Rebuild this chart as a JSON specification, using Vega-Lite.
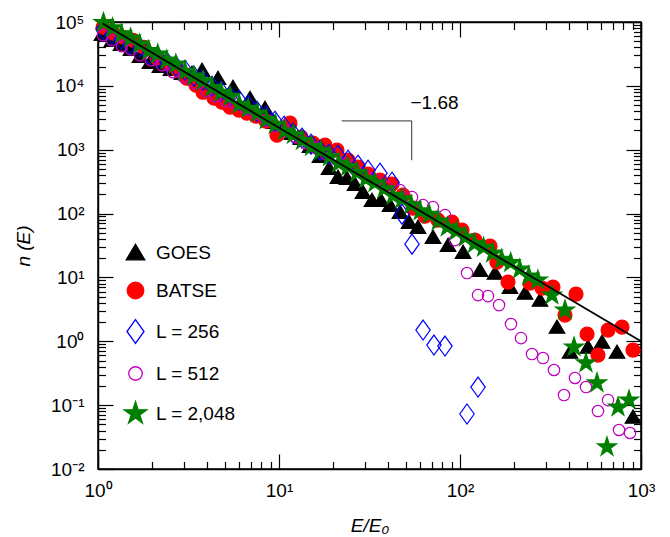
{
  "$schema": "https://vega.github.io/schema/vega-lite/v6.json",
  "width": 543,
  "height": 447,
  "autosize": {"type": "none"},
  "padding": {"left": 98, "top": 22, "right": 29, "bottom": 68},
  "background": "white",
  "config": {
    "view": {"stroke": "black", "strokeWidth": 1.5},
    "font": "Liberation Sans",
    "axis": {
      "grid": false, "domainColor": "black", "domainWidth": 1.5, "tickColor": "black", "tickWidth": 1.2,
      "labelFont": "Liberation Sans", "labelFontSize": 19, "labelColor": "black", "labelOverlap": false, "labelFlush": false,
      "titleFont": "Liberation Sans", "titleFontSize": 19, "titleFontStyle": "italic", "titleFontWeight": "normal", "titleColor": "black"
    },
    "legend": {
      "labelFont": "Liberation Sans", "labelFontSize": 19, "labelColor": "black",
      "symbolSize": 560, "symbolStrokeWidth": 1.3, "rowPadding": 15, "labelOffset": 8, "padding": 0
    }
  },
  "datasets": {
    "pts": [
      {"series":"GOES","E":1.052,"n":64300},{"series":"GOES","E":1.195,"n":51800},{"series":"GOES","E":1.34,"n":44800},{"series":"GOES","E":1.522,"n":37400},{"series":"GOES","E":1.706,"n":29100},{"series":"GOES","E":1.937,"n":23400},{"series":"GOES","E":2.2,"n":20300},{"series":"GOES","E":2.531,"n":18200},{"series":"GOES","E":2.911,"n":15800},{"series":"GOES","E":3.305,"n":15800},{"series":"GOES","E":3.755,"n":17600},{"series":"GOES","E":4.603,"n":13150},{"series":"GOES","E":5.57,"n":9510},{"series":"GOES","E":6.918,"n":6400},{"series":"GOES","E":8.37,"n":4470},{"series":"GOES","E":9.38,"n":2700},{"series":"GOES","E":10.52,"n":2170},{"series":"GOES","E":11.8,"n":1815},{"series":"GOES","E":13.23,"n":1515},{"series":"GOES","E":14.84,"n":1135},{"series":"GOES","E":16.85,"n":792},{"series":"GOES","E":18.9,"n":514},{"series":"GOES","E":21.18,"n":372},{"series":"GOES","E":23.75,"n":358},{"series":"GOES","E":26.3,"n":289},{"series":"GOES","E":29.11,"n":216},{"series":"GOES","E":32.65,"n":162},{"series":"GOES","E":36.62,"n":162},{"series":"GOES","E":41.07,"n":135.5},{"series":"GOES","E":46.6,"n":105.2},{"series":"GOES","E":52.3,"n":73.5},{"series":"GOES","E":58.6,"n":61.4},{"series":"GOES","E":70.9,"n":42.8},{"series":"GOES","E":85.9,"n":32.1},{"series":"GOES","E":104,"n":24.9},{"series":"GOES","E":128.9,"n":13},{"series":"GOES","E":156.1,"n":11.7},{"series":"GOES","E":188.9,"n":7.06},{"series":"GOES","E":228.6,"n":5.69},{"series":"GOES","E":276.7,"n":4.42},{"series":"GOES","E":343.4,"n":1.67},{"series":"GOES","E":405.5,"n":0.678},{"series":"GOES","E":509.5,"n":0.813},{"series":"GOES","E":609.5,"n":0.973},{"series":"GOES","E":736.9,"n":0.678},{"series":"GOES","E":903.4,"n":0.0652},
      {"series":"BATSE","E":1.066,"n":82700},{"series":"BATSE","E":1.21,"n":66700},{"series":"BATSE","E":1.375,"n":57700},{"series":"BATSE","E":1.561,"n":51800},{"series":"BATSE","E":1.795,"n":40200},{"series":"BATSE","E":2.118,"n":27100},{"series":"BATSE","E":2.436,"n":21800},{"series":"BATSE","E":2.767,"n":17560},{"series":"BATSE","E":3.103,"n":13150},{"series":"BATSE","E":3.479,"n":10230},{"series":"BATSE","E":3.802,"n":7940},{"series":"BATSE","E":4.375,"n":6400},{"series":"BATSE","E":4.842,"n":5545},{"series":"BATSE","E":5.361,"n":4630},{"series":"BATSE","E":6.012,"n":4155},{"series":"BATSE","E":6.653,"n":3730},{"series":"BATSE","E":7.463,"n":3347},{"series":"BATSE","E":8.475,"n":2795},{"series":"BATSE","E":9.75,"n":1688},{"series":"BATSE","E":11.5,"n":2601},{"series":"BATSE","E":13.23,"n":1570},{"series":"BATSE","E":15.41,"n":1265},{"series":"BATSE","E":17.96,"n":1178},{"series":"BATSE","E":20.91,"n":984},{"series":"BATSE","E":24.05,"n":686},{"series":"BATSE","E":27.32,"n":533},{"series":"BATSE","E":31.03,"n":414},{"series":"BATSE","E":36.13,"n":333},{"series":"BATSE","E":42.1,"n":289},{"series":"BATSE","E":48.4,"n":194},{"series":"BATSE","E":55,"n":121.6},{"series":"BATSE","E":64.1,"n":91.2},{"series":"BATSE","E":75.5,"n":78.9},{"series":"BATSE","E":90.3,"n":73.5},{"series":"BATSE","E":102.6,"n":55.1},{"series":"BATSE","E":121,"n":38.4},{"series":"BATSE","E":146.5,"n":30.9},{"series":"BATSE","E":160,"n":17.4},{"series":"BATSE","E":184.1,"n":8.45},{"series":"BATSE","E":243.7,"n":8.15},{"series":"BATSE","E":283.9,"n":6.81},{"series":"BATSE","E":326.5,"n":7.06},{"series":"BATSE","E":380.2,"n":2.57},{"series":"BATSE","E":437.5,"n":5.48},{"series":"BATSE","E":503.5,"n":1.3},{"series":"BATSE","E":578.5,"n":0.608},{"series":"BATSE","E":657.6,"n":1.5},{"series":"BATSE","E":785,"n":1.67},{"series":"BATSE","E":903,"n":0.729},
      {"series":"L = 256","E":1.066,"n":76900},{"series":"L = 256","E":1.195,"n":64300},{"series":"L = 256","E":1.34,"n":53670},{"series":"L = 256","E":1.503,"n":44810},{"series":"L = 256","E":1.706,"n":40220},{"series":"L = 256","E":1.913,"n":31250},{"series":"L = 256","E":2.146,"n":28050},{"series":"L = 256","E":2.406,"n":23440},{"series":"L = 256","E":2.697,"n":20290},{"series":"L = 256","E":3.025,"n":17560},{"series":"L = 256","E":3.392,"n":14150},{"series":"L = 256","E":3.802,"n":12240},{"series":"L = 256","E":4.264,"n":9865},{"series":"L = 256","E":4.782,"n":8240},{"series":"L = 256","E":5.361,"n":6880},{"series":"L = 256","E":6.012,"n":5960},{"series":"L = 256","E":6.742,"n":4975},{"series":"L = 256","E":7.559,"n":4008},{"series":"L = 256","E":8.475,"n":3347},{"series":"L = 256","E":9.5,"n":2795},{"series":"L = 256","E":10.66,"n":2335},{"series":"L = 256","E":11.95,"n":1814},{"series":"L = 256","E":13.4,"n":1515},{"series":"L = 256","E":15.02,"n":1220},{"series":"L = 256","E":16.85,"n":983},{"series":"L = 256","E":18.9,"n":851},{"series":"L = 256","E":21.18,"n":821},{"series":"L = 256","E":24.05,"n":686},{"series":"L = 256","E":27.32,"n":573},{"series":"L = 256","E":31.03,"n":478},{"series":"L = 256","E":36.13,"n":429},{"series":"L = 256","E":42.1,"n":310},{"series":"L = 256","E":47.8,"n":97.9},{"series":"L = 256","E":54.3,"n":33.2},{"series":"L = 256","E":62.5,"n":1.5},{"series":"L = 256","E":71.8,"n":0.873},{"series":"L = 256","E":82.6,"n":0.842},{"series":"L = 256","E":109.3,"n":0.0726},{"series":"L = 256","E":125.8,"n":0.192},
      {"series":"L = 512","E":1.066,"n":62000},{"series":"L = 512","E":1.195,"n":51800},{"series":"L = 512","E":1.357,"n":41700},{"series":"L = 512","E":1.522,"n":37400},{"series":"L = 512","E":1.706,"n":30150},{"series":"L = 512","E":1.963,"n":25180},{"series":"L = 512","E":2.257,"n":21030},{"series":"L = 512","E":2.597,"n":16340},{"series":"L = 512","E":2.987,"n":13650},{"series":"L = 512","E":3.435,"n":10990},{"series":"L = 512","E":3.951,"n":8240},{"series":"L = 512","E":4.487,"n":6880},{"series":"L = 512","E":5.096,"n":5746},{"series":"L = 512","E":5.787,"n":5158},{"series":"L = 512","E":6.573,"n":4308},{"series":"L = 512","E":7.463,"n":3597},{"series":"L = 512","E":8.475,"n":2898},{"series":"L = 512","E":9.625,"n":2335},{"series":"L = 512","E":10.93,"n":1950},{"series":"L = 512","E":12.42,"n":1570},{"series":"L = 512","E":14.1,"n":1265},{"series":"L = 512","E":16.01,"n":1056},{"series":"L = 512","E":18.18,"n":851},{"series":"L = 512","E":20.65,"n":711},{"series":"L = 512","E":23.45,"n":594},{"series":"L = 512","E":26.63,"n":478},{"series":"L = 512","E":30.25,"n":385},{"series":"L = 512","E":34.35,"n":333},{"series":"L = 512","E":39.01,"n":269},{"series":"L = 512","E":46.6,"n":232.6},{"series":"L = 512","E":54.3,"n":180.8},{"series":"L = 512","E":62.5,"n":135.5},{"series":"L = 512","E":70.9,"n":126.1},{"series":"L = 512","E":82.6,"n":94.5},{"series":"L = 512","E":93.8,"n":38.4},{"series":"L = 512","E":109.3,"n":11.7},{"series":"L = 512","E":125.8,"n":5.29},{"series":"L = 512","E":142.8,"n":5.1},{"series":"L = 512","E":164.3,"n":3.69},{"series":"L = 512","E":191.3,"n":1.86},{"series":"L = 512","E":217.3,"n":1.12},{"series":"L = 512","E":249.9,"n":0.631},{"series":"L = 512","E":287.4,"n":0.546},{"series":"L = 512","E":330.6,"n":0.355},{"series":"L = 512","E":375.5,"n":0.144},{"series":"L = 512","E":431.9,"n":0.266},{"series":"L = 512","E":496.8,"n":0.192},{"series":"L = 512","E":578.5,"n":0.0809},{"series":"L = 512","E":657.6,"n":0.12},{"series":"L = 512","E":756.1,"n":0.0408},{"series":"L = 512","E":869.6,"n":0.0366},
      {"series":"L = 2,048","E":1.072,"n":97700},{"series":"L = 2,048","E":1.202,"n":80500},{"series":"L = 2,048","E":1.349,"n":64900},{"series":"L = 2,048","E":1.514,"n":56000},{"series":"L = 2,048","E":1.698,"n":45100},{"series":"L = 2,048","E":1.905,"n":35500},{"series":"L = 2,048","E":2.138,"n":31300},{"series":"L = 2,048","E":2.399,"n":25200},{"series":"L = 2,048","E":2.692,"n":21800},{"series":"L = 2,048","E":3.02,"n":16750},{"series":"L = 2,048","E":3.388,"n":14130},{"series":"L = 2,048","E":3.802,"n":11910},{"series":"L = 2,048","E":4.266,"n":9380},{"series":"L = 2,048","E":4.786,"n":7910},{"series":"L = 2,048","E":5.37,"n":6820},{"series":"L = 2,048","E":6.026,"n":5130},{"series":"L = 2,048","E":6.761,"n":4430},{"series":"L = 2,048","E":7.586,"n":3730},{"series":"L = 2,048","E":8.511,"n":2940},{"series":"L = 2,048","E":9.55,"n":2480},{"series":"L = 2,048","E":10.72,"n":1950},{"series":"L = 2,048","E":12.02,"n":1722},{"series":"L = 2,048","E":13.49,"n":1387},{"series":"L = 2,048","E":15.14,"n":1117},{"series":"L = 2,048","E":16.98,"n":964},{"series":"L = 2,048","E":19.05,"n":776},{"series":"L = 2,048","E":21.38,"n":611},{"series":"L = 2,048","E":23.99,"n":540},{"series":"L = 2,048","E":26.92,"n":435},{"series":"L = 2,048","E":30.2,"n":350},{"series":"L = 2,048","E":33.88,"n":302},{"series":"L = 2,048","E":38.02,"n":243},{"series":"L = 2,048","E":42.66,"n":191},{"series":"L = 2,048","E":47.86,"n":169},{"series":"L = 2,048","E":53.7,"n":136},{"series":"L = 2,048","E":60.26,"n":109.6},{"series":"L = 2,048","E":67.61,"n":96.8},{"series":"L = 2,048","E":75.86,"n":76.2},{"series":"L = 2,048","E":85.11,"n":61.4},{"series":"L = 2,048","E":95.5,"n":53},{"series":"L = 2,048","E":107.2,"n":42.7},{"series":"L = 2,048","E":120.2,"n":33.6},{"series":"L = 2,048","E":134.9,"n":29.6},{"series":"L = 2,048","E":151.4,"n":23.9},{"series":"L = 2,048","E":169.8,"n":19.2},{"series":"L = 2,048","E":190.5,"n":17},{"series":"L = 2,048","E":213.8,"n":13.4},{"series":"L = 2,048","E":239.9,"n":10.5},{"series":"L = 2,048","E":269.2,"n":9.08},{"series":"L = 2,048","E":322.1,"n":5.28},{"series":"L = 2,048","E":380.2,"n":3.08},{"series":"L = 2,048","E":426.6,"n":0.811},{"series":"L = 2,048","E":496.6,"n":0.456},{"series":"L = 2,048","E":571.5,"n":0.222},{"series":"L = 2,048","E":648.6,"n":0.0221},{"series":"L = 2,048","E":746.5,"n":0.0933},{"series":"L = 2,048","E":859,"n":0.12}
    ],
    "fit": [{"E": 1.06, "n": 94400}, {"E": 1000, "n": 1.0}],
    "slope": [{"E": 22.2, "E2": 54.1, "n": 2825, "n2": 2825}, {"E": 54.1, "E2": 54.1, "n": 2825, "n2": 685}],
    "note": [{"E": 72.3, "n": 5346, "label": "−1.68"}]
  },
  "layer": [
    {
      "data": {"name": "pts"},
      "mark": {"type": "point", "filled": true, "opacity": 1, "strokeWidth": 1.2, "size": 400},
      "encoding": {
        "x": {"field": "E", "type": "quantitative",
          "scale": {"type": "log", "domain": [1, 1000], "nice": false},
          "axis": {"orient": "bottom", "title": "E/E₀",
            "values": [1,2,3,4,5,6,7,8,9,10,20,30,40,50,60,70,80,90,100,200,300,400,500,600,700,800,900,1000],
            "labelExpr": "datum.value == 1 ? '10⁰' : datum.value == 10 ? '10¹' : datum.value == 100 ? '10²' : datum.value == 1000 ? '10³' : ''",
            "tickSize": {"condition": {"test": "indexof([1,10,100,1000], datum.value) >= 0", "value": -15}, "value": -7.5},
            "labelPadding": 27, "titlePadding": 9}},
        "y": {"field": "n", "type": "quantitative",
          "scale": {"type": "log", "domain": [0.01, 100000], "nice": false},
          "axis": {"orient": "left", "title": "n (E)",
            "values": [0.01,0.02,0.03,0.04,0.05,0.06,0.07,0.08,0.09,0.1,0.2,0.3,0.4,0.5,0.6,0.7,0.8,0.9,1,2,3,4,5,6,7,8,9,10,20,30,40,50,60,70,80,90,100,200,300,400,500,600,700,800,900,1000,2000,3000,4000,5000,6000,7000,8000,9000,10000,20000,30000,40000,50000,60000,70000,80000,90000,100000],
            "labelExpr": "datum.value == 0.01 ? '10⁻²' : datum.value == 0.1 ? '10⁻¹' : datum.value == 1 ? '10⁰' : datum.value == 10 ? '10¹' : datum.value == 100 ? '10²' : datum.value == 1000 ? '10³' : datum.value == 10000 ? '10⁴' : datum.value == 100000 ? '10⁵' : ''",
            "tickSize": {"condition": {"test": "indexof([0.01,0.1,1,10,100,1000,10000,100000], datum.value) >= 0", "value": -15}, "value": -7.5},
            "labelPadding": 29, "titlePadding": 17}},
        "shape": {"field": "series", "type": "nominal",
          "scale": {"domain": ["GOES", "BATSE", "L = 256", "L = 512", "L = 2,048"],
            "range": ["M0,-0.7L0.78,0.62L-0.78,0.62Z",
                      "M0.7,0A0.7,0.7,0,1,1,-0.7,0A0.7,0.7,0,1,1,0.7,0Z",
                      "M0,-1L0.72,0L0,1L-0.72,0Z",
                      "M0.57,0A0.57,0.57,0,1,1,-0.57,0A0.57,0.57,0,1,1,0.57,0Z",
                      "M0,-1L0.225,-0.309L0.951,-0.309L0.363,0.118L0.588,0.809L0,0.382L-0.588,0.809L-0.363,0.118L-0.951,-0.309L-0.225,-0.309Z"]},
          "legend": {"title": null, "orient": "none", "legendX": 25, "legendY": 218}},
        "fill": {"field": "series", "type": "nominal",
          "scale": {"domain": ["GOES", "BATSE", "L = 256", "L = 512", "L = 2,048"],
            "range": ["#000000", "#ff0000", "transparent", "transparent", "#007f00"]},
          "legend": {"title": null, "orient": "none", "legendX": 25, "legendY": 218}},
        "stroke": {"field": "series", "type": "nominal",
          "scale": {"domain": ["GOES", "BATSE", "L = 256", "L = 512", "L = 2,048"],
            "range": ["#000000", "#ff0000", "#0000ff", "#c000c0", "#007f00"]},
          "legend": {"title": null, "orient": "none", "legendX": 25, "legendY": 218}}
      }
    },
    {
      "data": {"name": "fit"},
      "mark": {"type": "line", "color": "black", "strokeWidth": 1.8},
      "encoding": {
        "x": {"field": "E", "type": "quantitative", "scale": {"type": "log", "domain": [1, 1000], "nice": false},
          "axis": {"orient": "top", "title": null, "labels": false,
            "values": [1,2,3,4,5,6,7,8,9,10,20,30,40,50,60,70,80,90,100,200,300,400,500,600,700,800,900,1000],
            "tickSize": {"condition": {"test": "indexof([1,10,100,1000], datum.value) >= 0", "value": -15}, "value": -7.5}}},
        "y": {"field": "n", "type": "quantitative", "scale": {"type": "log", "domain": [0.01, 100000], "nice": false},
          "axis": {"orient": "right", "title": null, "labels": false,
            "values": [0.01,0.02,0.03,0.04,0.05,0.06,0.07,0.08,0.09,0.1,0.2,0.3,0.4,0.5,0.6,0.7,0.8,0.9,1,2,3,4,5,6,7,8,9,10,20,30,40,50,60,70,80,90,100,200,300,400,500,600,700,800,900,1000,2000,3000,4000,5000,6000,7000,8000,9000,10000,20000,30000,40000,50000,60000,70000,80000,90000,100000],
            "tickSize": {"condition": {"test": "indexof([0.01,0.1,1,10,100,1000,10000,100000], datum.value) >= 0", "value": -15}, "value": -7.5}}}
      }
    },
    {
      "data": {"name": "slope"},
      "mark": {"type": "rule", "color": "#333333", "strokeWidth": 1},
      "encoding": {
        "x": {"field": "E", "type": "quantitative", "scale": {"type": "log", "domain": [1, 1000], "nice": false}, "axis": null},
        "x2": {"field": "E2"},
        "y": {"field": "n", "type": "quantitative", "scale": {"type": "log", "domain": [0.01, 100000], "nice": false}, "axis": null},
        "y2": {"field": "n2"}
      }
    },
    {
      "data": {"name": "note"},
      "mark": {"type": "text", "font": "Liberation Sans", "fontSize": 19, "align": "center", "baseline": "middle", "color": "black"},
      "encoding": {
        "x": {"field": "E", "type": "quantitative", "scale": {"type": "log", "domain": [1, 1000], "nice": false}, "axis": null},
        "y": {"field": "n", "type": "quantitative", "scale": {"type": "log", "domain": [0.01, 100000], "nice": false}, "axis": null},
        "text": {"field": "label"}
      }
    }
  ],
  "resolve": {"axis": {"x": "independent", "y": "independent"}}
}
